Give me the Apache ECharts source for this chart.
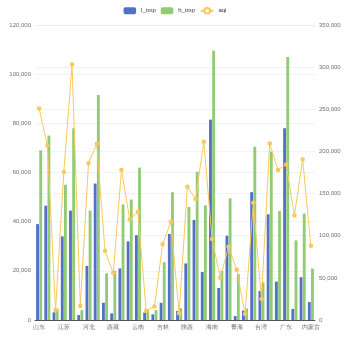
<!DOCTYPE html>
<html>
<head>
<meta charset="utf-8">
<script src="https://cdn.jsdelivr.net/npm/echarts@6/dist/echarts.min.js"></script>
<style>
  html, body { margin: 0; padding: 0; }
  #main { width: 350px; height: 350px; }
</style>
</head>
<body>
<div id="main"></div>
<script>
// 省份
var aProvince = ['山东', '山西', '浙江', '江苏', '安徽', '福建', '河北', '河南', '湖北', '西藏',
    '四川', '贵州', '云南', '辽宁', '黑龙江', '吉林', '甘肃', '宁夏', '陕西', '江西',
    '湖南', '海南', '广西', '新疆', '青海', '香港', '澳门', '台湾', '北京', '天津',
    '广东', '上海', '重庆', '内蒙古'];

// 低温
var aLowTmp = [39000, 46500, 3100, 34000, 44500, 2000, 22000, 55500, 7000, 2700,
    21000, 32000, 34500, 3000, 2300, 7000, 35000, 3700, 23000, 40700,
    19500, 81500, 13000, 34300, 1600, 3800, 52000, 11800, 43000, 15600,
    78000, 4500, 17400, 7300];

// 高温
var aHighTmp = [69000, 75000, 4500, 55000, 78000, 4000, 44500, 91500, 19000, 20000,
    47000, 49000, 62000, 4000, 4000, 23500, 52000, 4800, 46000, 60300,
    46700, 109500, 20000, 49500, 18700, 4700, 70500, 15300, 68500, 44300,
    107000, 32400, 43300, 20900];

// 空气质量
var aAqi = [251000, 207000, 12000, 175500, 303000, 16500, 186000, 209000, 82000, 55500,
    178000, 119500, 128000, 11000, 16000, 90000, 116500, 8000, 158000, 143500,
    211500, 96000, 50000, 87000, 59500, 7000, 139000, 25000, 209500, 178000,
    184500, 124000, 190500, 88000];

var oChart = echarts.init(document.getElementById('main'));

var oAxisLabel = { fontSize: 6, color: '#6E7079' };

oChart.setOption({
    animation: false,
    textStyle: { fontFamily: "sans-serif" },
    legend: {
        top: 2,
        itemWidth: 12.5,
        itemHeight: 7,
        itemGap: 5,
        textStyle: { fontSize: 6, color: '#333' },
        data: ['l_tmp', 'h_tmp', 'aqi']
    },
    grid: {
        left: 35,
        right: 35,
        top: 25,
        bottom: 30
    },
    xAxis: {
        type: 'category',
        data: aProvince,
        axisTick: { length: 2.5, interval: 2 },
        axisLabel: { fontSize: 6, color: '#6E7079', interval: 2, margin: 4 }
    },
    yAxis: [
        {
            type: 'value',
            min: 0,
            max: 120000,
            interval: 20000,
            axisLabel: { fontSize: 6, color: '#6E7079', margin: 4 },
            splitLine: { lineStyle: { color: '#E0E6F1', width: 0.5 } }
        },
        {
            type: 'value',
            min: 0,
            max: 350000,
            interval: 50000,
            axisLabel: { fontSize: 6, color: '#6E7079', margin: 4 },
            splitLine: { lineStyle: { color: '#E0E6F1', width: 0.5 } }
        }
    ],
    series: [
        {
            name: 'l_tmp',
            type: 'bar',
            data: aLowTmp,
            itemStyle: { color: '#5470c6' }
        },
        {
            name: 'h_tmp',
            type: 'bar',
            data: aHighTmp,
            itemStyle: { color: '#91cc75' }
        },
        {
            name: 'aqi',
            type: 'line',
            yAxisIndex: 1,
            data: aAqi,
            symbol: 'emptyCircle',
            symbolSize: 2.5,
            itemStyle: { color: '#fac858' },
            lineStyle: { width: 1 }
        }
    ]
});
</script>
</body>
</html>
